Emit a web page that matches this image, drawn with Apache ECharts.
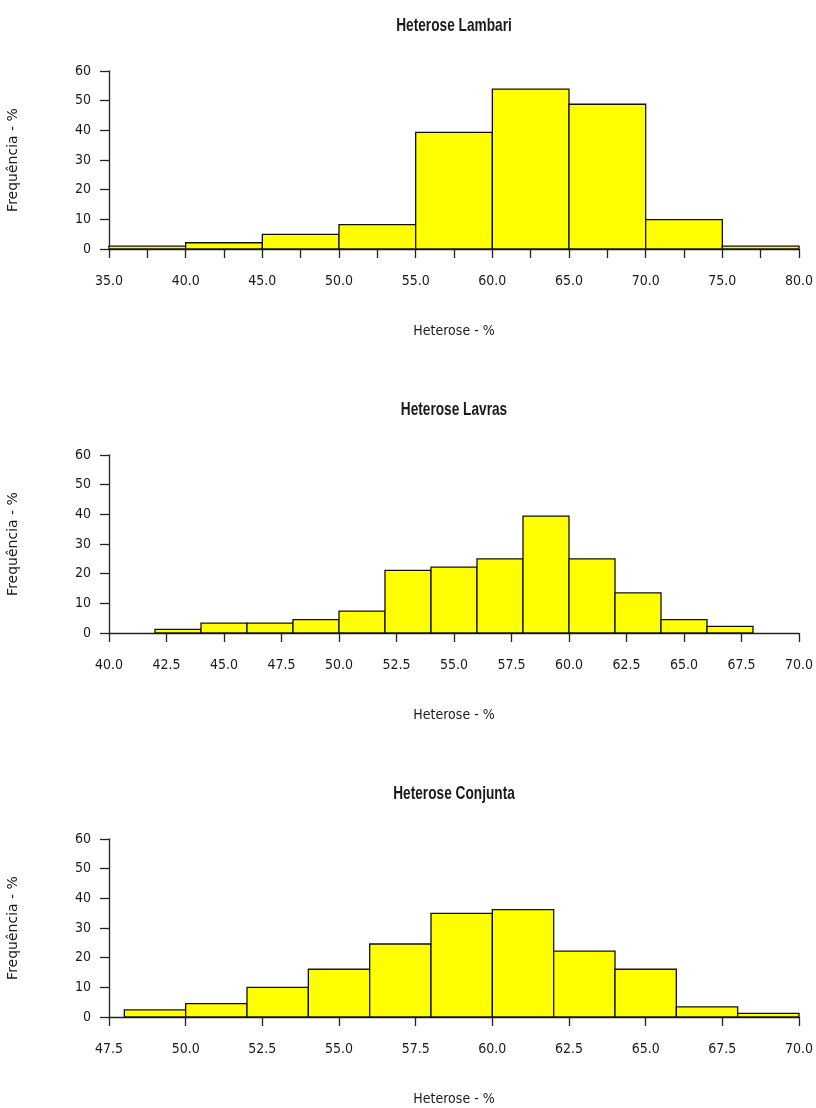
<!DOCTYPE html>
<html><head><meta charset="utf-8">
<script src="https://cdn.jsdelivr.net/npm/echarts@6/dist/echarts.min.js"></script>
<style>html,body{margin:0;padding:0;background:#fff}#c{width:816px;height:1108px}</style>
</head><body><div id="c"></div>
<script>
// Data
const titles = ['Heterose Lambari', 'Heterose Lavras', 'Heterose Conjunta'];
const lambariEdges = [35, 40, 45, 50, 55, 60, 65, 70, 75, 80];
const lambariFreq = [1.0, 2.1, 4.9, 8.2, 39.3, 53.9, 48.8, 9.9, 1.0];
const lavrasEdges = [42, 44, 46, 48, 50, 52, 54, 56, 58, 60, 62, 64, 66, 68];
const lavrasFreq = [1.2, 3.3, 3.3, 4.5, 7.4, 21.1, 22.2, 25.0, 39.4, 25.0, 13.5, 4.5, 2.2];
const conjuntaEdges = [48, 50, 52, 54, 56, 58, 60, 62, 64, 66, 68, 70];
const conjuntaFreq = [2.4, 4.5, 10.0, 16.1, 24.6, 34.9, 36.2, 22.2, 16.1, 3.4, 1.2];
const xRanges = [[35, 80], [40, 70], [47.5, 70]];
const xLabelStep = [5, 2.5, 2.5];
const yTicks = [0, 10, 20, 30, 40, 50, 60];
const xName = 'Heterose - %';
const yName = 'Frequência - %';

const edgesList = [lambariEdges, lavrasEdges, conjuntaEdges];
const freqList = [lambariFreq, lavrasFreq, conjuntaFreq];
const gridTops = [71, 455, 839];
const gridLeft = 109, gridWidth = 690, gridHeight = 178;
const cond = "'DejaVu Sans Condensed', 'Liberation Sans Narrow', 'Liberation Sans', Arial, sans-serif";
const sans = "'Liberation Sans', Arial, sans-serif";
const txt = '#1a1a1a';

function binData(edges, freq) {
  return freq.map((f, i) => [edges[i], edges[i + 1], f]);
}

const option = { animation: false, graphic: [], grid: [], xAxis: [], yAxis: [], series: [] };
for (let k = 0; k < 3; k++) {
  option.graphic.push({
    type: 'text', x: gridLeft + gridWidth / 2, y: gridTops[k] - 45, scaleX: 0.72,
    style: { text: titles[k], fontFamily: sans, fontSize: 19, fontWeight: 'bold', fill: txt,
             textAlign: 'center', textVerticalAlign: 'middle' }
  });
  option.grid.push({ left: gridLeft, top: gridTops[k], width: gridWidth, height: gridHeight,
                     containLabel: false, outerBoundsMode: 'none' });
  const step = xLabelStep[k];
  option.xAxis.push({
    type: 'value', gridIndex: k, min: xRanges[k][0], max: xRanges[k][1], interval: 2.5,
    name: xName, nameLocation: 'middle', nameGap: 75,
    nameTextStyle: { fontFamily: cond, fontSize: 14, color: txt },
    axisLine: { onZero: false, lineStyle: { color: '#222', width: 1.3 } },
    axisTick: { show: true, length: 9, lineStyle: { color: '#222', width: 1.3 } },
    axisLabel: {
      margin: 25, fontFamily: cond, fontSize: 14, color: txt, showMinLabel: true, showMaxLabel: true,
      formatter: v => (Math.abs(v / step - Math.round(v / step)) < 1e-6) ? v.toFixed(1) : ''
    },
    splitLine: { show: false }
  });
  option.yAxis.push({
    type: 'value', gridIndex: k, min: yTicks[0], max: yTicks[yTicks.length - 1], interval: yTicks[1] - yTicks[0],
    name: yName, nameLocation: 'middle', nameGap: 89, nameRotate: 90,
    nameTextStyle: { fontFamily: "'DejaVu Sans', Verdana, sans-serif", fontSize: 14, color: txt },
    axisLine: { show: true, lineStyle: { color: '#222', width: 1.3 } },
    axisTick: { show: true, length: 9, lineStyle: { color: '#222', width: 1.3 } },
    axisLabel: { margin: 18, fontFamily: cond, fontSize: 14, color: txt },
    splitLine: { show: false }
  });
  option.series.push({
    type: 'custom', xAxisIndex: k, yAxisIndex: k,
    data: binData(edgesList[k], freqList[k]),
    encode: { x: [0, 1], y: 2 },
    renderItem: function (params, api) {
      const p0 = api.coord([api.value(0), 0]);
      const p1 = api.coord([api.value(1), api.value(2)]);
      return {
        type: 'rect',
        shape: { x: p0[0], y: p1[1], width: p1[0] - p0[0], height: p0[1] - p1[1] },
        style: { fill: '#ffff00', stroke: '#111', lineWidth: 1.3 }
      };
    }
  });
}
const chart = echarts.init(document.getElementById('c'), null, { renderer: 'canvas' });
chart.setOption(option);
</script></body></html>
